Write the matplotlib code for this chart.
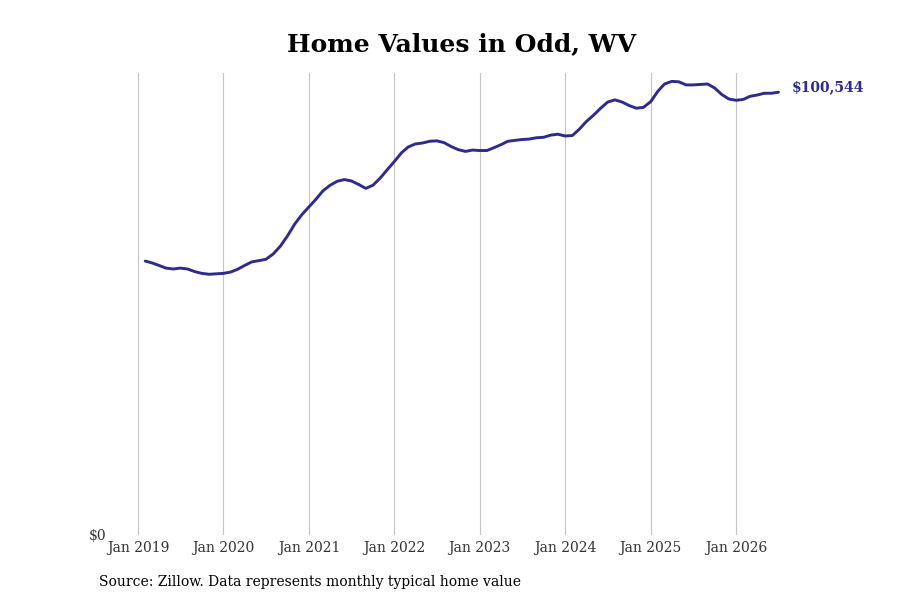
import matplotlib
matplotlib.use("Agg")
import matplotlib.pyplot as plt
import matplotlib.dates as mdates
import pandas as pd

plt.rcParams['font.family'] = ['DejaVu Serif']

start_month = "2019-02-01"
values = [
    62200, 61800, 61200, 60600, 60400, 60600, 60400, 59800, 59400, 59200, 59300,
    59400, 59700, 60300, 61200, 62000, 62300, 62600, 63800, 65600, 67900, 70600, 72700,
    74500, 76300, 78100, 79400, 80300, 80700, 80400, 79600, 78700, 79400, 81000, 82900,
    84800, 86800, 88100, 88800, 89000, 89400, 89500, 89100, 88200, 87500, 87100, 87400,
    87300, 87300, 87900, 88600, 89400, 89600, 89800, 89900, 90200, 90300, 90800, 91000,
    90600, 90700, 92100, 93900, 95300, 96900, 98300, 98800, 98300, 97500, 96900, 97100,
    98400, 100800, 102400, 103000, 102900, 102200, 102200, 102300, 102400, 101500, 100000, 99000,
    98700, 98900, 99600, 99900, 100300, 100300, 100544,
]
dates = pd.date_range(start_month, periods=len(values), freq="MS")
tick_years = list(range(2019, 2027))
tick_labels = [f"Jan {y}" for y in tick_years]
title = "Home Values in Odd, WV"
source = "Source: Zillow. Data represents monthly typical home value"

line_color = "#2E2B8C"

fig = plt.figure(figsize=(9, 6), dpi=100)
ax = fig.add_axes([112/900, 65/600, 673/900, 462/600])
ax.plot(dates, values, color=line_color, linewidth=2.1, solid_capstyle="round")

ax.set_ylim(0, 104900)
ax.set_xlim(pd.Timestamp("2018-09-12"), pd.Timestamp("2026-07-29"))
ax.set_yticks([0])
ax.set_yticklabels(["$0"])
ticks = [pd.Timestamp(f"{y}-01-01") for y in tick_years]
ax.set_xticks(ticks)
ax.set_xticklabels(tick_labels)
ax.tick_params(axis="both", length=0, labelsize=10, colors="#333333", pad=4)
ax.grid(axis="x", color="#c4c4c4", linewidth=0.8)
ax.grid(axis="y", visible=False)
for s in ax.spines.values():
    s.set_visible(False)

last_val = values[-1]
ax.annotate(f"${last_val:,}", xy=(dates[-1], last_val), xytext=(9.8, 3.5),
            textcoords="offset points", fontsize=10, fontweight="bold",
            color=line_color, va="center", ha="left", annotation_clip=False)

fig.text(461.5/900, 1 - 44/600, title, ha="center", va="center", fontsize=18, fontweight="bold")
fig.text(99/900, 1 - 582/600, source, ha="left", va="center", fontsize=10)

fig.savefig("out.png", dpi=100)
